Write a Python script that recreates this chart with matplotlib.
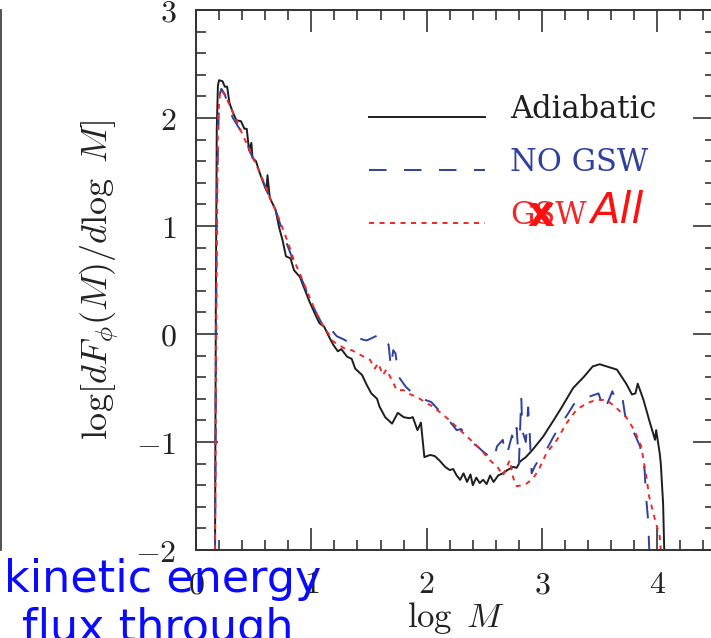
import matplotlib
matplotlib.use("Agg")
import matplotlib.pyplot as plt
from matplotlib.lines import Line2D
from matplotlib.legend_handler import HandlerLine2D
from matplotlib.ticker import MultipleLocator, FuncFormatter

plt.rcParams["mathtext.fontset"] = "cm"
plt.rcParams["font.family"] = "DejaVu Serif"

# kinetic energy flux per log Mach number bin
adia_x = [0.165, 0.172, 0.18, 0.19, 0.20, 0.23, 0.25, 0.27, 0.29, 0.32, 0.35, 0.39,
          0.42, 0.44, 0.46, 0.48, 0.49, 0.52, 0.55, 0.58, 0.61, 0.62, 0.64, 0.69,
          0.72, 0.75, 0.78, 0.82, 0.85, 0.90, 0.94, 0.98, 1.03, 1.07, 1.11, 1.16,
          1.19, 1.23, 1.26, 1.31, 1.35, 1.38, 1.44, 1.48, 1.52, 1.57, 1.59, 1.64,
          1.67, 1.70, 1.75, 1.80, 1.85, 1.88, 1.92, 1.95, 1.98, 2.03, 2.07, 2.11,
          2.16, 2.20, 2.23, 2.26, 2.29, 2.32, 2.35, 2.38, 2.40, 2.43, 2.46, 2.49,
          2.52, 2.55, 2.58, 2.62, 2.66, 2.70, 2.75, 2.78, 2.81, 2.86, 2.92, 3.01,
          3.10, 3.17, 3.27, 3.36, 3.44, 3.50, 3.56, 3.65, 3.73, 3.78, 3.81, 3.83,
          3.88, 3.93, 3.98, 3.99, 4.02, 4.03, 4.05, 4.06]
adia_y = [-2.0, 0.3, 1.9, 2.30, 2.35, 2.34, 2.29, 2.29, 2.14, 2.05, 1.98, 1.97,
          1.90, 1.90, 1.70, 1.77, 1.63, 1.60, 1.50, 1.41, 1.33, 1.47, 1.26, 1.15,
          0.99, 0.87, 0.72, 0.70, 0.59, 0.53, 0.42, 0.31, 0.19, 0.10, 0.07, -0.04,
          -0.10, -0.16, -0.14, -0.21, -0.23, -0.32, -0.38, -0.47, -0.55, -0.60, -0.67, -0.77,
          -0.80, -0.83, -0.73, -0.77, -0.78, -0.77, -0.89, -0.82, -1.14, -1.12, -1.13, -1.17,
          -1.23, -1.26, -1.25, -1.31, -1.35, -1.29, -1.37, -1.30, -1.40, -1.33, -1.38, -1.35,
          -1.39, -1.31, -1.37, -1.31, -1.29, -1.26, -1.23, -1.24, -1.18, -1.14, -1.07, -0.95,
          -0.80, -0.68, -0.50, -0.40, -0.30, -0.28, -0.30, -0.33, -0.46, -0.56, -0.55, -0.46,
          -0.61, -0.80, -0.98, -0.89, -1.10, -1.20, -1.57, -2.0]

nogsw_x = [0.165, 0.18, 0.20, 0.22, 0.25, 0.28, 0.32, 0.36, 0.40, 0.44, 0.47, 0.52,
           0.58, 0.63, 0.68, 0.72, 0.76, 0.80, 0.85, 0.90, 0.95, 1.00, 1.05, 1.10,
           1.13, 1.18, 1.22, 1.28, 1.33, 1.38, 1.44, 1.48, 1.52, 1.58, 1.60, 1.64,
           1.67, 1.69, 1.71, 1.73, 1.75, 1.76, 1.82, 1.87, 1.91, 1.96, 2.04, 2.10,
           2.15, 2.20, 2.26, 2.30, 2.35, 2.40, 2.45, 2.49, 2.54, 2.58, 2.61, 2.66,
           2.68, 2.70, 2.74, 2.76, 2.78, 2.80, 2.82, 2.83, 2.86, 2.88, 2.89, 2.91,
           2.94, 2.97, 3.04, 3.10, 3.15, 3.23, 3.30, 3.36, 3.41, 3.49, 3.54, 3.58,
           3.61, 3.65, 3.70, 3.72, 3.75, 3.80, 3.85, 3.89, 3.90, 3.92, 3.93, 3.95]
nogsw_y = [-2.0, 1.2, 2.20, 2.27, 2.22, 2.10, 2.00, 1.93, 1.86, 1.78, 1.68, 1.58,
           1.42, 1.28, 1.18, 1.05, 0.92, 0.80, 0.66, 0.55, 0.42, 0.29, 0.18, 0.08,
           0.01, 0.03, -0.02, -0.05, -0.08, -0.02, -0.05, -0.06, -0.04, -0.01, -0.06, -0.05,
           -0.10, -0.31, -0.15, -0.18, -0.35, -0.40, -0.49, -0.54, -0.58, -0.60, -0.63, -0.70,
           -0.72, -0.81, -0.89, -0.88, -0.95, -1.01, -1.05, -1.09, -1.13, -1.17, -1.04, -0.98,
           -1.12, -1.10, -0.94, -1.00, -0.87, -1.20, -0.58, -0.90, -1.00, -0.68, -0.85, -1.29,
           -1.22, -1.17, -1.07, -0.95, -0.86, -0.73, -0.61, -0.60, -0.58, -0.55, -0.71, -0.61,
           -0.53, -0.65, -0.61, -0.75, -0.84, -0.92, -1.04, -1.26, -1.48, -1.72, -2.0, -2.0]

gsw_x = [0.165, 0.175, 0.19, 0.21, 0.23, 0.26, 0.29, 0.33, 0.37, 0.41, 0.45, 0.50,
         0.55, 0.60, 0.65, 0.70, 0.75, 0.80, 0.85, 0.90, 0.95, 1.00, 1.05, 1.10,
         1.15, 1.19, 1.24, 1.28, 1.35, 1.42, 1.47, 1.51, 1.55, 1.58, 1.62, 1.65,
         1.70, 1.74, 1.80, 1.86, 1.91, 2.00, 2.05, 2.11, 2.20, 2.29, 2.37, 2.46,
         2.55, 2.62, 2.66, 2.72, 2.75, 2.78, 2.86, 2.92, 2.97, 3.04, 3.13, 3.21,
         3.30, 3.39, 3.47, 3.56, 3.65, 3.73, 3.80, 3.86, 3.90, 3.93, 3.98, 4.02, 4.03]
gsw_y = [-2.0, 0.0, 2.0, 2.26, 2.24, 2.20, 2.12, 2.03, 1.93, 1.83, 1.74, 1.62,
         1.50, 1.37, 1.24, 1.12, 0.98, 0.84, 0.68, 0.56, 0.43, 0.30, 0.18, 0.08,
         0.00, -0.07, -0.10, -0.13, -0.15, -0.19, -0.22, -0.24, -0.32, -0.27, -0.38, -0.33,
         -0.43, -0.52, -0.52, -0.56, -0.58, -0.64, -0.67, -0.72, -0.80, -0.89, -0.97, -1.06,
         -1.17, -1.24, -1.31, -1.17, -1.33, -1.41, -1.39, -1.34, -1.26, -1.10, -0.98, -0.83,
         -0.70, -0.64, -0.61, -0.61, -0.69, -0.77, -0.89, -1.04, -1.29, -1.51, -1.72, -1.87, -2.0]

labels = ["Adiabatic", "NO GSW", "GSW"]
colors = ["#1e1e1e", "#3040a0", "#f02828"]


class LowLine(HandlerLine2D):
    # sit the legend sample near the text baseline instead of its middle
    def create_artists(self, legend, orig_handle, xdescent, ydescent,
                       width, height, fontsize, trans):
        return super().create_artists(legend, orig_handle, xdescent, ydescent + 14,
                                      width, height, fontsize, trans)


fig = plt.figure(figsize=(7.11, 6.38), dpi=100)
ax = fig.add_axes([196 / 711, 88 / 638, 519 / 711, 540 / 638])

ax.plot(adia_x, adia_y, color=colors[0], lw=1.4, label=labels[0])
ax.plot(nogsw_x, nogsw_y, color=colors[1], lw=1.4, dashes=(9, 9), label=labels[1])
ax.plot(gsw_x, gsw_y, color=colors[2], lw=1.4, dashes=(2.6, 2.8), label=labels[2])

ax.set_xlim(0, 4.5)
ax.set_ylim(-2, 3)
ax.xaxis.set_major_locator(MultipleLocator(1))
ax.xaxis.set_minor_locator(MultipleLocator(0.2))
ax.yaxis.set_major_locator(MultipleLocator(1))
ax.yaxis.set_minor_locator(MultipleLocator(0.2))
fmt = FuncFormatter(lambda v, p: r"$%d$" % round(v))
ax.xaxis.set_major_formatter(fmt)
ax.yaxis.set_major_formatter(fmt)
ax.tick_params(which="both", direction="in", top=True, right=True,
               color="#333333", width=1.2, labelsize=23, labelcolor="#222222")
ax.tick_params(which="major", length=16)
ax.tick_params(axis="x", which="major", pad=14)
ax.tick_params(axis="y", which="major", pad=14)
ax.tick_params(which="minor", length=7.5)
for s in ax.spines.values():
    s.set_linewidth(1.4)
    s.set_color("#333333")

ax.set_xlabel(r"$\log\ M$", fontsize=25, color="#222222", labelpad=0)
ax.set_ylabel(r"$\log[dF_\phi(M)/d\log\ M]$", fontsize=26, color="#222222", labelpad=10)

leg = ax.legend(loc="upper left", bbox_to_anchor=(0.333, 0.845), frameon=False,
                fontsize=22, handlelength=3.8, handletextpad=0.82, labelspacing=0.72,
                borderpad=0, borderaxespad=0, labelcolor="linecolor",
                handler_map={Line2D: LowLine()})

# neighbouring panel edge on the left
fig.add_artist(Line2D([1.5 / 711, 1.5 / 711], [88 / 638, 628 / 638],
                      color="#444444", lw=1.3))

# slide annotations on top of the plot
fig.text(541 / 711, 1 - 214 / 638, "x", color="#ff1010", fontsize=30,
         fontweight="bold", ha="center", va="center", family="DejaVu Sans")
fig.text(590 / 711, 1 - 211 / 638, "All", color="#ff1010", fontsize=31,
         style="italic", ha="left", va="center", family="DejaVu Sans")
fig.text(4 / 711, 1 - 592 / 638, "kinetic energy", color="#0a0aff", fontsize=32,
         ha="left", va="baseline", family="DejaVu Sans")
fig.text(22 / 711, 1 - 641 / 638, "flux through", color="#0a0aff", fontsize=32,
         ha="left", va="baseline", family="DejaVu Sans")

fig.savefig("out.png", dpi=100)
